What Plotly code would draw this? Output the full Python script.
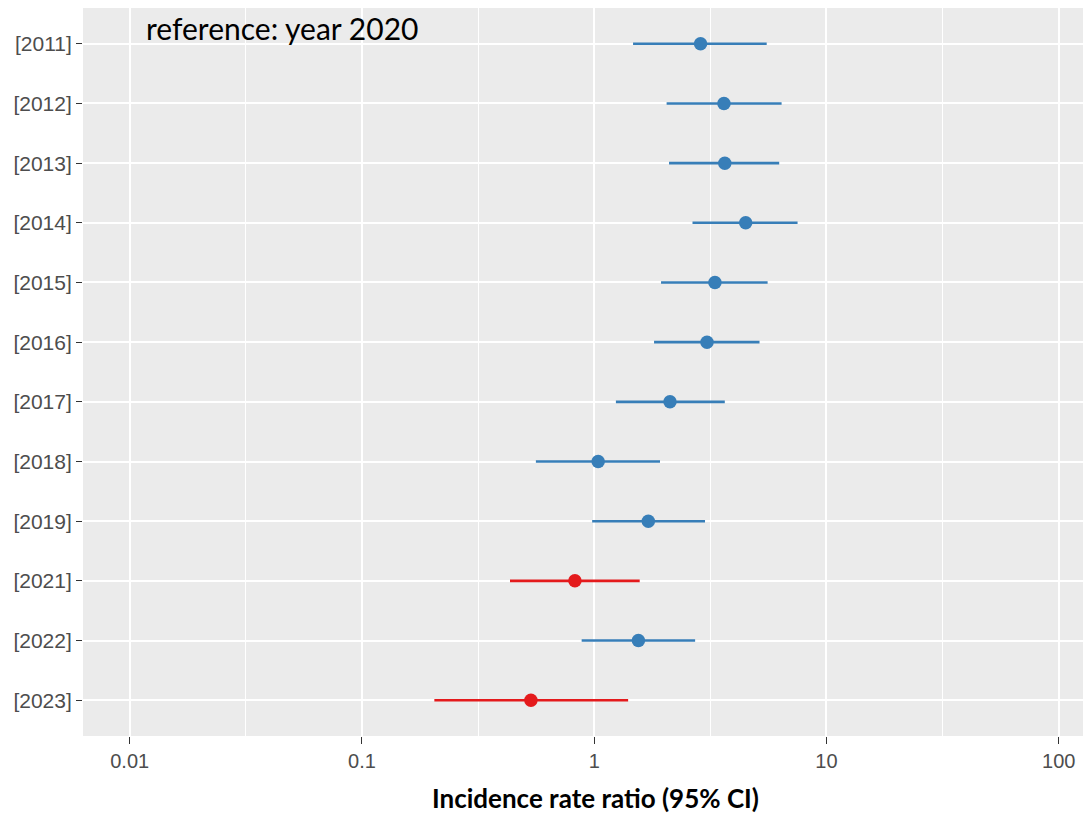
import plotly.graph_objects as go

years = ["[2011]", "[2012]", "[2013]", "[2014]", "[2015]", "[2016]",
         "[2017]", "[2018]", "[2019]", "[2021]", "[2022]", "[2023]"]
irr = [2.87, 3.62, 3.65, 4.49, 3.31, 3.06, 2.12, 1.04, 1.71, 0.826, 1.55, 0.534]
ci_low = [1.47, 2.05, 2.10, 2.65, 1.94, 1.81, 1.24, 0.561, 0.98, 0.434, 0.883, 0.205]
ci_high = [5.53, 6.41, 6.26, 7.51, 5.58, 5.15, 3.65, 1.92, 3.00, 1.57, 2.72, 1.40]
significant_lower = [False] * 9 + [True, False, True]

x_ticks = [0.01, 0.1, 1, 10, 100]
x_tick_labels = ["0.01", "0.1", "1", "10", "100"]
minor_ticks = [10 ** -1.5, 10 ** -0.5, 10 ** 0.5, 10 ** 1.5]

BLUE = "#377EB8"
RED = "#E41A1C"

# page body has an 8px margin, so the figure is shifted by (8, 8)
W, H = 1083, 808
ML, MT, MB = 75.3, 0, 80
PW = W - ML
PH = H - MT - MB

fig = go.Figure()
for flag, color in [(False, BLUE), (True, RED)]:
    idx = [i for i, f in enumerate(significant_lower) if f == flag]
    fig.add_trace(go.Scatter(
        x=[irr[i] for i in idx],
        y=[years[i] for i in idx],
        mode="markers",
        marker=dict(color=color, size=13.5),
        error_x=dict(
            type="data", symmetric=False,
            array=[ci_high[i] - irr[i] for i in idx],
            arrayminus=[irr[i] - ci_low[i] for i in idx],
            color=color, thickness=2.6, width=0,
        ),
        showlegend=False,
    ))

fig.update_layout(
    width=W, height=H,
    margin=dict(l=ML, r=0, t=MT, b=MB, pad=0, autoexpand=False),
    paper_bgcolor="white",
    plot_bgcolor="#EBEBEB",
    font=dict(family="Liberation Sans, Arial", size=20, color="#4D4D4D"),
    xaxis=dict(
        type="log",
        range=[-2.201, 2.139],
        automargin=False,
        tickmode="array", tickvals=x_ticks, ticktext=x_tick_labels,
        showgrid=True, gridcolor="white", gridwidth=1.8,
        minor=dict(tickmode="array", tickvals=minor_ticks, showgrid=True,
                   gridcolor="white", gridwidth=1.0, ticks=""),
        ticks="outside", ticklen=7, tickcolor="#333333", tickwidth=1.2,
        showline=False, zeroline=False,
        tickfont=dict(family="Liberation Sans, Arial", size=20, color="#4D4D4D"),
        title=dict(text=""),
    ),
    yaxis=dict(
        type="category",
        categoryorder="array", categoryarray=years,
        range=[11.6, -0.6],
        automargin=False,
        showgrid=True, gridcolor="white", gridwidth=1.8,
        ticks="outside", ticklen=6, tickcolor="#333333", tickwidth=1.2,
        showline=False, zeroline=False,
        tickfont=dict(family="Liberation Sans, Arial", size=21, color="#4D4D4D"),
    ),
    annotations=[
        dict(
            text="reference: year 2020",
            xref="paper", yref="paper",
            x=(144 - 83.3) / PW, y=1.0, xanchor="left", yanchor="top",
            showarrow=False,
            font=dict(family="Lato, Open Sans", size=30, color="black"),
        ),
        dict(
            text="<b>Incidence rate ratio (95% CI)</b>",
            xref="paper", yref="paper",
            x=(596 - 83.3) / PW, y=-(798 - 736) / PH,
            xanchor="center", yanchor="middle",
            showarrow=False,
            font=dict(family="Lato, Open Sans", size=26, color="black"),
        ),
    ],
)

fig.write_html("out.html")
